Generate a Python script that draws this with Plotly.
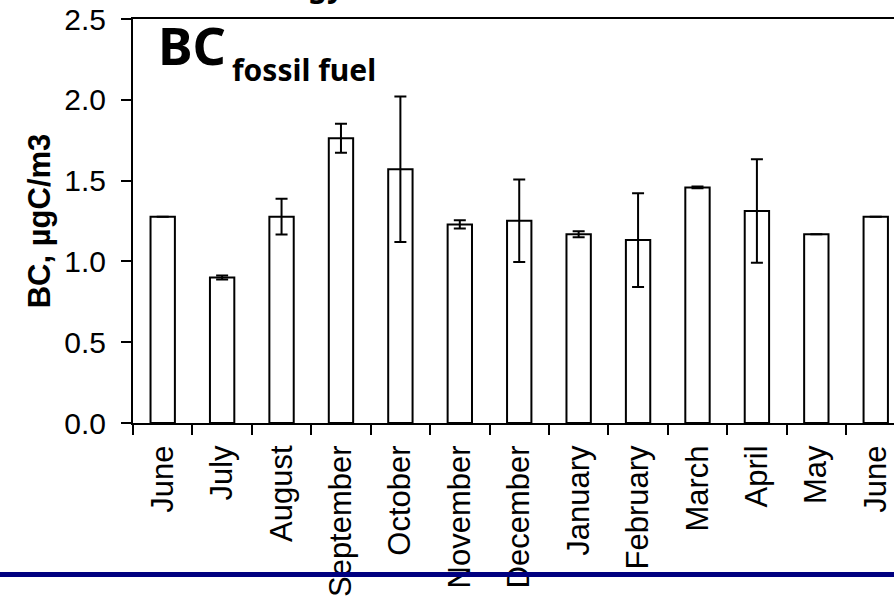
import plotly.graph_objects as go

months = ["June", "July", "August", "September", "October", "November", "December",
          "January", "February", "March", "April", "May", "June"]
bc_values = [1.277, 0.90, 1.277, 1.762, 1.570, 1.229, 1.252, 1.168, 1.132, 1.458, 1.312, 1.168, 1.277]
bc_errors = [None, 0.012, 0.11, 0.09, 0.45, 0.025, 0.255, 0.018, 0.29, 0.006, 0.32, None, None]
y_ticks = [0.0, 0.5, 1.0, 1.5, 2.0, 2.5]

W, H = 894, 599
L, R, T, B = 133, 0, 19, 176
cat_w = 59.42
x_max = -0.5 + (W - L - R) / cat_w

def px_x(px):
    return (px - L) / (W - L - R)

def px_y(py):
    return (H - B - py) / (H - B - T)

x_idx = list(range(len(months)))

fig = go.Figure()
fig.add_trace(go.Bar(
    x=x_idx, y=bc_values, width=0.41,
    marker=dict(color="white", line=dict(color="black", width=2)),
    error_y=dict(type="data", array=bc_errors, visible=True, color="black", thickness=2, width=6),
    showlegend=False,
))

fig.update_layout(
    width=W, height=H,
    margin=dict(l=L, r=R, t=T, b=B, pad=0),
    paper_bgcolor="white", plot_bgcolor="white",
    font=dict(family="Liberation Sans, Arial, sans-serif", color="black"),
    xaxis=dict(
        range=[-0.5, x_max], tickmode="array", tickvals=x_idx, ticktext=months,
        tickangle=-90, ticks="", showgrid=False, zeroline=False,
        showline=True, linecolor="black", linewidth=2, mirror=True,
        tickfont=dict(size=31, family="Liberation Sans, Arial, sans-serif"),
        ticklabelstandoff=8,
        minor=dict(tick0=-0.5, dtick=1, ticks="outside", ticklen=10, tickwidth=2,
                   tickcolor="black", showgrid=False),
    ),
    yaxis=dict(
        range=[0, 2.5], tickmode="array", tickvals=y_ticks,
        ticktext=[f"{v:.1f}" for v in y_ticks],
        ticks="outside", ticklen=10, tickwidth=2, tickcolor="black",
        showgrid=False, zeroline=False, showline=True, linecolor="black", linewidth=2,
        tickfont=dict(size=30, family="Liberation Sans, Arial, sans-serif"),
        ticklabelstandoff=9,
        title=dict(text="<b>BC, µgC/m3</b>", font=dict(size=31, family="Liberation Sans, Arial, sans-serif"),
                   standoff=4),
    ),
    bargap=0.5,
)

# Panel label
fig.add_annotation(xref="paper", yref="paper", x=px_x(156), y=px_y(82), xanchor="left", yanchor="bottom",
                   text="<b>BC</b>", showarrow=False,
                   font=dict(size=52, family="Noto Sans, sans-serif", color="black"))
fig.add_annotation(xref="paper", yref="paper", x=px_x(230), y=px_y(92), xanchor="left", yanchor="bottom",
                   text="<b>fossil fuel</b>", showarrow=False,
                   font=dict(size=30, family="Noto Sans, sans-serif", color="black"))
# Cropped title fragment at top (cut off in the original as well)
fig.add_annotation(xref="paper", yref="paper", x=px_x(326), y=px_y(8), xanchor="center", yanchor="bottom",
                   text="<b>gy</b>", showarrow=False,
                   font=dict(size=30, family="Noto Sans, sans-serif", color="black"))

# Blue rule at the bottom
fig.add_shape(type="line", xref="paper", yref="paper", x0=px_x(0), x1=px_x(W), y0=px_y(574.5), y1=px_y(574.5),
              line=dict(color="#000080", width=5), layer="above")

fig.write_html("out.html")
